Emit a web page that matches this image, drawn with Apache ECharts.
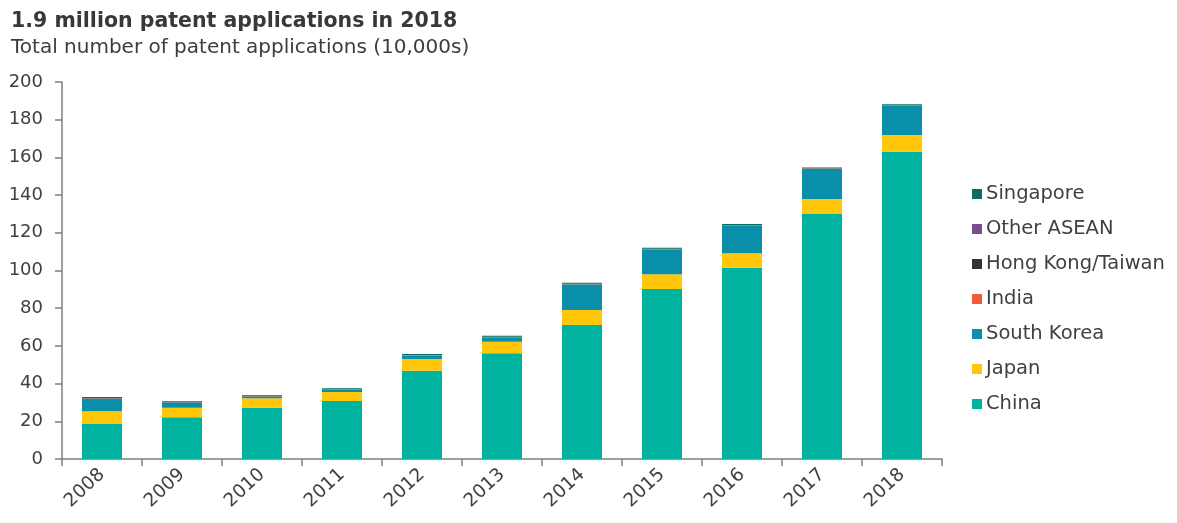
<!DOCTYPE html>
<html>
<head>
<meta charset="utf-8">
<script src="https://cdn.jsdelivr.net/npm/echarts@6/dist/echarts.min.js"></script>
<style>
  html, body { margin: 0; padding: 0; background: #ffffff; }
  #chart { width: 1177px; height: 523px; }
</style>
</head>
<body>
<div id="chart"></div>
<script>
// Patent applications by origin, in units of 10,000
const years = ['2008', '2009', '2010', '2011', '2012', '2013', '2014', '2015', '2016', '2017', '2018'];
const china       = [18.6, 22.1, 27.2, 30.8, 46.8, 56.1, 71.1, 90.2, 101.5, 130.0, 163.0];
const japan       = [6.7, 5.1, 5.0, 4.7, 6.2, 6.1, 7.9, 7.8, 7.6, 7.9, 8.9];
const southKorea  = [6.8, 2.6, 1.0, 1.2, 1.9, 2.4, 13.7, 13.3, 14.8, 16.0, 15.5];
const india       = [0.1, 0.1, 0.1, 0.1, 0.1, 0.1, 0.1, 0.1, 0.1, 0.1, 0.1];
const hkTaiwan    = [0.1, 0.1, 0.1, 0.1, 0.1, 0.1, 0.1, 0.1, 0.1, 0.1, 0.1];
const otherAsean  = [0.1, 0.1, 0.1, 0.1, 0.1, 0.1, 0.1, 0.1, 0.1, 0.1, 0.1];
const singapore   = [0.5, 0.5, 0.5, 0.5, 0.5, 0.5, 0.5, 0.5, 0.5, 0.5, 0.5];
const yTicks = [0, 20, 40, 60, 80, 100, 120, 140, 160, 180, 200];

const FONT = '"DejaVu Sans", Verdana, sans-serif';
const TEXT = '#404040';

const seriesDefs = [
  { name: 'China', data: china, color: '#00b3a1' },
  { name: 'Japan', data: japan, color: '#ffc60a' },
  { name: 'South Korea', data: southKorea, color: '#0a8fab' },
  { name: 'India', data: india, color: '#f15a3a' },
  { name: 'Hong Kong/Taiwan', data: hkTaiwan, color: '#333333' },
  { name: 'Other ASEAN', data: otherAsean, color: '#7a4d8c' },
  { name: 'Singapore', data: singapore, color: '#0c6e5e' }
];

const chart = echarts.init(document.getElementById('chart'), null, { renderer: 'canvas' });

chart.setOption({
  animation: false,
  backgroundColor: '#ffffff',
  title: {
    text: '1.9 million patent applications in 2018',
    subtext: 'Total number of patent applications (10,000s)',
    left: 6,
    top: 6,
    itemGap: 6,
    textStyle: { fontFamily: FONT, fontSize: 20.5, fontWeight: 'bold', color: '#383838' },
    subtextStyle: { fontFamily: FONT, fontSize: 20, color: '#3c3c3c' }
  },
  legend: {
    orient: 'vertical',
    left: 967,
    top: 178,
    icon: 'rect',
    itemWidth: 10,
    itemHeight: 10,
    itemGap: 13,
    data: ['Singapore', 'Other ASEAN', 'Hong Kong/Taiwan', 'India', 'South Korea', 'Japan', 'China'],
    textStyle: { fontFamily: FONT, fontSize: 19.5, color: TEXT, lineHeight: 22, padding: [0, 0, 0, -1] }
  },
  grid: { left: 62, top: 82, width: 880, height: 377, containLabel: false },
  xAxis: {
    type: 'category',
    data: years,
    boundaryGap: true,
    axisLine: { lineStyle: { color: '#7f7f7f', width: 1.5 } },
    axisTick: { show: true, alignWithLabel: false, length: 7, lineStyle: { color: '#7f7f7f', width: 1.5 } },
    axisLabel: {
      rotate: 43,
      margin: 13,
      fontFamily: FONT,
      fontSize: 18.5,
      color: TEXT
    },
    splitLine: { show: false }
  },
  yAxis: {
    type: 'value',
    min: 0,
    max: 200,
    interval: 20,
    axisLine: { show: true, lineStyle: { color: '#7f7f7f', width: 1.5 } },
    axisTick: { show: true, length: 7, lineStyle: { color: '#7f7f7f', width: 1.5 } },
    axisLabel: {
      margin: 19,
      fontFamily: FONT,
      fontSize: 18,
      color: TEXT,
      formatter: v => (yTicks.includes(v) ? String(v) : '')
    },
    splitLine: { show: false }
  },
  series: seriesDefs.map(s => ({
    name: s.name,
    type: 'bar',
    stack: 'total',
    barWidth: 40,
    data: s.data,
    itemStyle: { color: s.color },
    emphasis: { disabled: true }
  }))
});
</script>
</body>
</html>
